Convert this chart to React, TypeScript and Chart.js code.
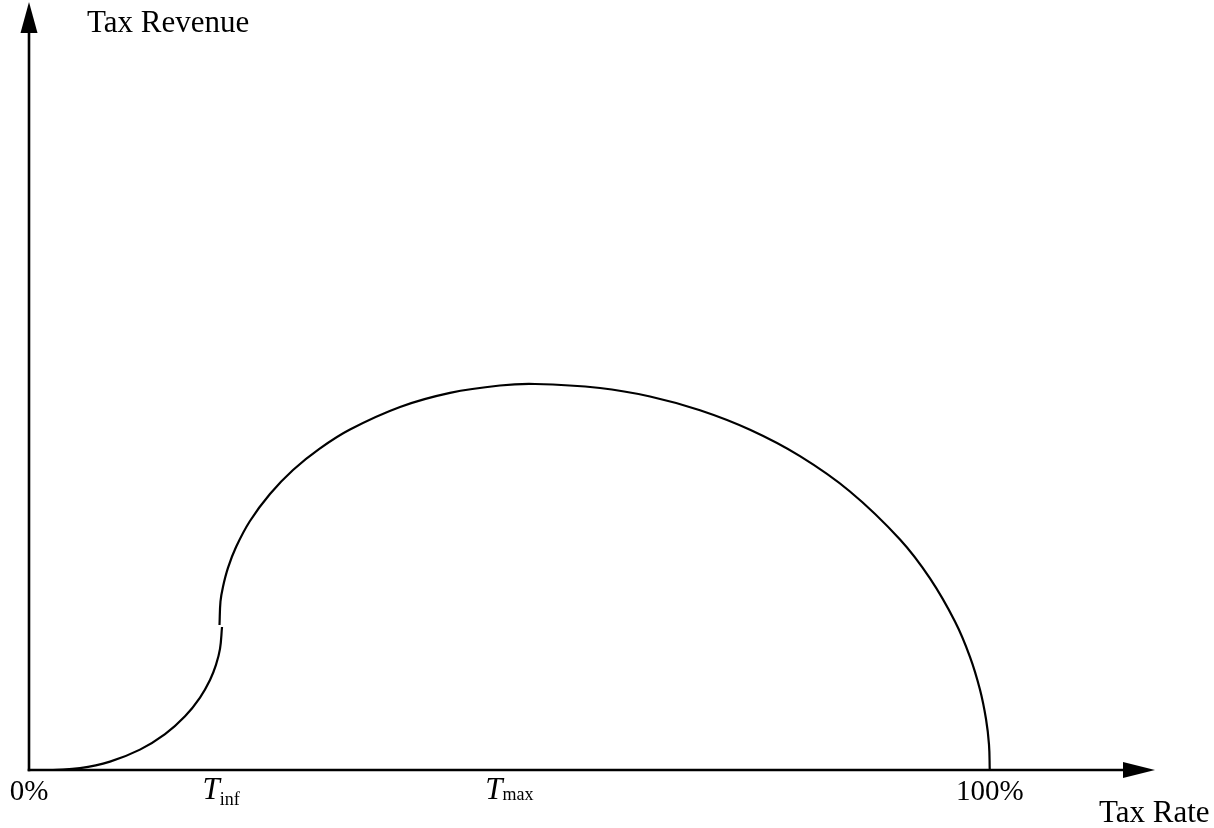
import React, { useEffect, useRef } from "react";
import { Chart, registerables } from "chart.js";

Chart.register(...registerables);

// Tax rate (% of x axis) and tax revenue (peak = 100)
const RATE_LOW = [2.5, 5.31, 8.43, 11.55, 14.16, 16.24, 17.8, 18.84, 19.46, 19.88, 20.09];
const REV_LOW = [0, 0.47, 2.18, 5.28, 9.3, 13.91, 18.78, 23.34, 27.25, 31.37, 37.05];

const RATE_HIGH = [
  19.83, 19.93, 20.19, 20.71, 21.55, 23.0, 25.08, 27.48, 30.29, 33.41, 38.62, 43.82, 49.02,
  52.67, 59.43, 64.64, 69.84, 75.05, 80.25, 85.45, 90.66, 93.78, 96.38, 97.94, 98.98, 99.61,
  99.92, 100,
];
const REV_HIGH = [
  37.56, 43.65, 47.46, 52.36, 57.77, 64.51, 71.5, 77.72, 83.32, 88.21, 94.04, 97.69, 99.61,
  100, 98.96, 96.76, 93.19, 88.13, 81.3, 72.15, 59.72, 49.64, 38.47, 29.33, 20.85, 13.21,
  6.63, 0,
];

// Axis extents (arrow tips)
const X_MAX = 117.2;
const Y_MAX = 198.7;

// Tick labels
const TICK_AT = [0, 20, 50, 100];
const TICK_MAIN = ["0%", "T", "T", "100%"];
const TICK_SUB = ["", "inf", "max", ""];
const TICK_SUB_DROP = [0, 6, 1, 0];

const X_TITLE = "Tax Rate";
const Y_TITLE = "Tax Revenue";

const toPoints = (xs: number[], ys: number[]) => xs.map((x, i) => ({ x, y: ys[i] }));

const axesPlugin = {
  id: "laffer-axes",
  afterDraw(chart: any) {
    const { ctx, chartArea, scales } = chart;
    const xs = scales.x;
    const ys = scales.y;
    const x0 = xs.getPixelForValue(0);
    const y0 = ys.getPixelForValue(0);
    const xTip = xs.getPixelForValue(X_MAX);
    const yTip = ys.getPixelForValue(Y_MAX) - 1;
    ctx.save();
    ctx.strokeStyle = "#000";
    ctx.fillStyle = "#000";
    ctx.lineWidth = 2.6;
    // y axis
    ctx.beginPath();
    ctx.moveTo(x0, y0 + 1.3);
    ctx.lineTo(x0, yTip + 25);
    ctx.stroke();
    ctx.beginPath();
    ctx.moveTo(x0, yTip);
    ctx.lineTo(x0 - 8.5, yTip + 31);
    ctx.lineTo(x0 + 8.5, yTip + 31);
    ctx.closePath();
    ctx.fill();
    // x axis
    ctx.beginPath();
    ctx.moveTo(x0 - 1.3, y0);
    ctx.lineTo(xTip - 25, y0);
    ctx.stroke();
    ctx.beginPath();
    ctx.moveTo(xTip, y0);
    ctx.lineTo(xTip - 32, y0 - 8);
    ctx.lineTo(xTip - 32, y0 + 8);
    ctx.closePath();
    ctx.fill();

    // titles
    ctx.textBaseline = "alphabetic";
    ctx.textAlign = "left";
    ctx.font = '31px "Liberation Serif"';
    ctx.fillText(Y_TITLE, chartArea.left + 58, chartArea.top + 29);
    ctx.fillText(X_TITLE, chartArea.right - 56, chartArea.bottom + 52);

    // tick labels
    const base = y0 + 30;
    TICK_AT.forEach((v, i) => {
      const cx = xs.getPixelForValue(v);
      if (!TICK_SUB[i]) {
        ctx.font = '29px "Liberation Serif"';
        ctx.textAlign = "center";
        ctx.fillText(TICK_MAIN[i], cx, base);
      } else {
        ctx.textAlign = "left";
        ctx.font = 'italic 31px "Liberation Serif"';
        const wm = ctx.measureText(TICK_MAIN[i]).width;
        ctx.font = '18px "Liberation Serif"';
        const ws = ctx.measureText(TICK_SUB[i]).width;
        const left = cx - (wm + ws) / 2;
        ctx.font = 'italic 31px "Liberation Serif"';
        ctx.fillText(TICK_MAIN[i], left, base - 1);
        ctx.font = '18px "Liberation Serif"';
        ctx.fillText(TICK_SUB[i], left + wm, base - 1 + TICK_SUB_DROP[i]);
      }
    });
    ctx.restore();
  },
};

export default function App() {
  const ref = useRef<HTMLCanvasElement | null>(null);

  useEffect(() => {
    if (!ref.current) return;
    const chart = new Chart(ref.current, {
      type: "line",
      data: {
        datasets: [
          {
            data: toPoints(RATE_LOW, REV_LOW),
            borderColor: "#000",
            borderWidth: 2.2,
            pointRadius: 0,
            tension: 0.4,
            fill: false,
          },
          {
            data: toPoints(RATE_HIGH, REV_HIGH),
            borderColor: "#000",
            borderWidth: 2.2,
            pointRadius: 0,
            tension: 0.4,
            fill: false,
          },
        ],
      },
      options: {
        animation: false,
        responsive: false,
        maintainAspectRatio: false,
        events: [],
        layout: { padding: { left: 29, right: 59, top: 3, bottom: 58 } },
        plugins: { legend: { display: false }, tooltip: { enabled: false } },
        scales: {
          x: { type: "linear", min: 0, max: X_MAX, display: false },
          y: { type: "linear", min: 0, max: Y_MAX, display: false },
        },
      },
      plugins: [axesPlugin],
    } as any);
    return () => chart.destroy();
  }, []);

  return (
    <div style={{ position: "absolute", left: 0, top: 0, width: 1214, height: 828, background: "#fff" }}>
      <canvas ref={ref} width={1214} height={828} style={{ display: "block" }} />
    </div>
  );
}
